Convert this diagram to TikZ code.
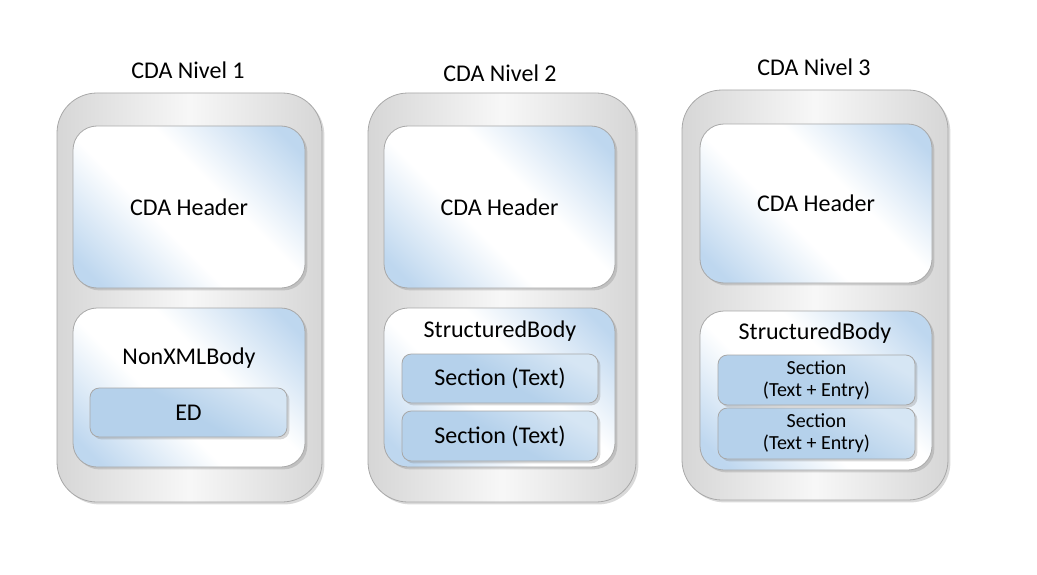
\documentclass[tikz,border=0pt]{standalone}
\usepackage{fontspec}
\setmainfont{Carlito}
\usetikzlibrary{shadows}
\definecolor{paleblue}{RGB}{190,215,239}
\definecolor{secblue}{RGB}{181,209,235}
\definecolor{boxgray}{RGB}{214,214,214}
\definecolor{linegray}{RGB}{168,168,168}
\pgfdeclareverticalshading{headershade}{100bp}{color(0bp)=(paleblue); color(20bp)=(paleblue);
  color(42bp)=(white); color(58bp)=(white); color(80bp)=(paleblue); color(100bp)=(paleblue)}

\begin{document}
\begin{tikzpicture}[x=0.75pt,y=-0.75pt,
    boxsize/.style 2 args={minimum width=#1*0.75pt, minimum height=#2*0.75pt, inner sep=0pt},
    softshadow/.style={drop shadow={shadow xshift=1.8pt, shadow yshift=-1.8pt, opacity=0.3}},
    outerbox/.style={draw=linegray, line width=0.6pt, rounded corners=30pt, softshadow,
        left color=boxgray, right color=boxgray, middle color=white!97!black},
    innerbox/.style={draw=linegray, line width=0.6pt, rounded corners=18pt, softshadow,
        shading=headershade, shading angle=-45, font=\fontsize{18}{22}\selectfont},
    sectionbox/.style={draw=linegray, line width=0.6pt, rounded corners=7pt, softshadow,
        top color=secblue!55!white, bottom color=secblue, middle color=secblue, shading angle=-30,
        font=\fontsize{18}{22}\selectfont, align=center},
    smallsection/.style={sectionbox, font=\fontsize{15}{16.5}\selectfont},
    caption/.style={font=\fontsize{18}{22}\selectfont}]
  \useasboundingbox (0,0) rectangle (1037,574);

  % Nivel 1
  \node[outerbox, boxsize={265}{409}] (outer1) at (189.5,297.5) {};
  \node[innerbox, boxsize={232}{162}] (header1) at (189,207) {CDA Header};
  \node[innerbox, boxsize={232}{159}] (body1) at (189,387.5) {};
  \node[caption] (nonxml) at (189,358) {NonXMLBody};
  \node[sectionbox, boxsize={197}{49}] (ed) at (188.5,412.5) {ED};
  \node[caption] (nivel1) at (188,70) {CDA Nivel 1};

  % Nivel 2
  \node[outerbox, boxsize={268}{409}] (outer2) at (502,297.5) {};
  \node[innerbox, boxsize={231}{162}] (header2) at (499.5,207) {CDA Header};
  \node[innerbox, boxsize={231}{159}] (body2) at (499.5,387.5) {};
  \node[caption] (structured2) at (500,331) {StructuredBody};
  \node[sectionbox, boxsize={196}{49}] (section2a) at (500,378.5) {Section (Text)};
  \node[sectionbox, boxsize={196}{50}] (section2b) at (500,436) {Section (Text)};
  \node[caption] (nivel2) at (500,73) {CDA Nivel 2};

  % Nivel 3
  \node[outerbox, boxsize={266}{410}] (outer3) at (815,295) {};
  \node[innerbox, boxsize={232}{159}] (header3) at (816,203.5) {CDA Header};
  \node[innerbox, boxsize={232}{159}] (body3) at (816,390.5) {};
  \node[caption] (structured3) at (815,333) {StructuredBody};
  \node[smallsection, boxsize={197}{50}] (section3a) at (816.5,380) {Section\\(Text + Entry)};
  \node[smallsection, boxsize={197}{51}] (section3b) at (816.5,433.5) {Section\\(Text + Entry)};
  \node[caption] (nivel3) at (814,67) {CDA Nivel 3};
\end{tikzpicture}
\end{document}
